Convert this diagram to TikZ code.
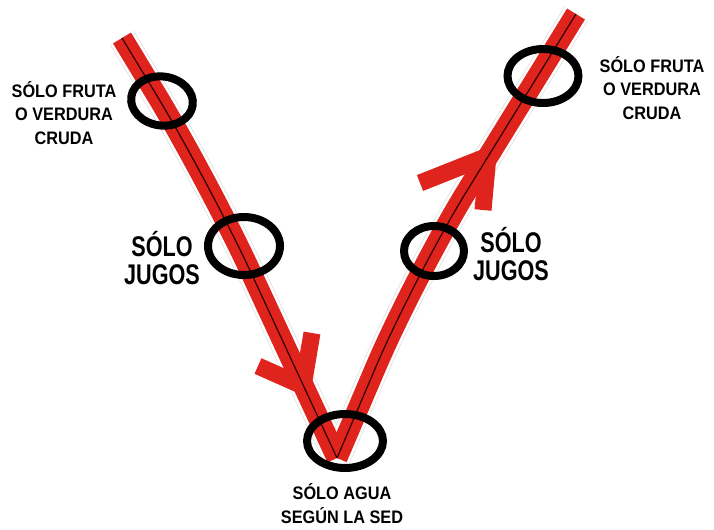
\documentclass[tikz,border=0pt]{standalone}
\usepackage{fontspec}
\setmainfont{Liberation Sans}
\usepackage{xcolor}
\usepackage{tikz}
\usetikzlibrary{shapes.geometric}
\definecolor{stripred}{RGB}{223,36,30}

\begin{document}
\begin{tikzpicture}[x=0.02cm,y=-0.02cm, halo/.style={draw=black!11,line width=0.5pt,double=white,double distance=0.52cm,line join=round,rounded corners=2cm},
  strip/.style={draw=stripred,line width=0.42cm,line join=round,rounded corners=2cm}, core/.style={draw=black!80!red,line width=0.7pt,rounded corners=2cm},
  barb/.style={draw=stripred,line width=0.34cm,line join=round},
  ring/.style={ellipse,draw=black,line width=0.16cm,inner sep=0pt},
  lab/.style={align=center,font=\bfseries\fontsize{10.3}{13.6}\selectfont,xscale=0.9},
  biglab/.style={align=center,font=\bfseries\fontsize{16.2}{15.6}\selectfont,xscale=0.76}]
\useasboundingbox (0,0) rectangle (714,529);
\coordinate (lt) at (122,38); \coordinate (lk) at (208,180); \coordinate (v) at (337,458);
\coordinate (rk) at (415,275); \coordinate (rt) at (576,14);
\coordinate (la) at (303,386); \coordinate (la1) at (258,366); \coordinate (la2) at (312,333);
\coordinate (ra) at (488,156); \coordinate (ra1) at (420,183); \coordinate (ra2) at (483,210);
\draw[halo] (lt)--(lk)--(v); \draw[halo] (v)--(rk)--(rt);
\draw[strip] (lt)--(lk)--(v); \draw[strip] (v)--(rk)--(rt);
\draw[barb] (la1)--(la)--(la2); \draw[barb] (ra1)--(ra)--(ra2);
\draw[core] (lt)--(lk)--(v); \draw[core] (v)--(rk)--(rt);
\node[ring,minimum width=1.24cm,minimum height=0.98cm,rotate=-8] (rfl) at (162,101) {};
\node[ring,minimum width=1.44cm,minimum height=1.16cm] (rjl) at (244,246) {};
\node[ring,minimum width=1.42cm,minimum height=1.08cm] (rfr) at (543,76) {};
\node[ring,minimum width=1.2cm,minimum height=1.0cm] (rjr) at (434,251) {};
\node[ring,minimum width=1.52cm,minimum height=1.08cm] (rw) at (345,441) {};
\node[lab] (fl) at (64,113) {SÓLO FRUTA\\O VERDURA\\CRUDA};
\node[lab] (fr) at (652,88) {SÓLO FRUTA\\O VERDURA\\CRUDA};
\node[biglab] (jl) at (162,258) {SÓLO\\JUGOS};
\node[biglab] (jr) at (511,254) {SÓLO\\JUGOS};
\node[lab] (w) at (342,504) {SÓLO AGUA\\SEGÚN LA SED};
\end{tikzpicture}
\end{document}
